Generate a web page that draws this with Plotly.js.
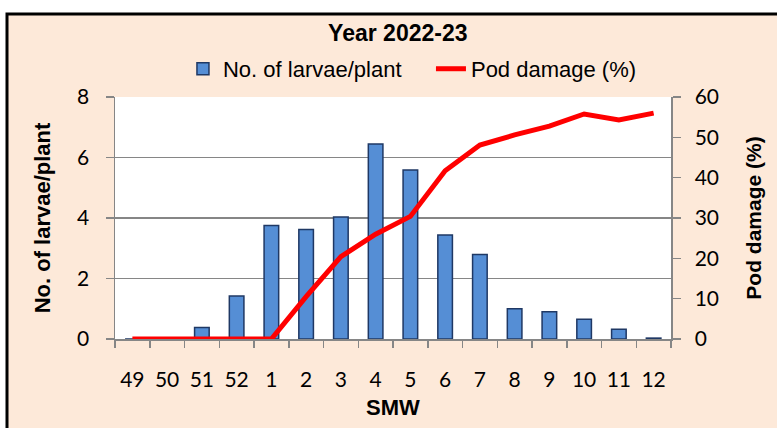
<!DOCTYPE html>
<html>
<head>
<meta charset="utf-8">
<script src="https://cdn.plot.ly/plotly-3.0.1.min.js"></script>
<style>html,body{margin:0;padding:0;background:#fff;}#chart{width:777px;height:428px;}</style>
</head>
<body>
<div id="chart"></div>
<script>
const smw = ['49','50','51','52','1','2','3','4','5','6','7','8','9','10','11','12'];
const larvae = [0, 0, 0.38, 1.42, 3.75, 3.62, 4.03, 6.45, 5.59, 3.44, 2.79, 1.0, 0.9, 0.65, 0.32, 0.03];
const podDamage = [0, 0, 0, 0, 0, 10.5, 20.4, 26.0, 30.4, 41.7, 48.1, 50.6, 52.8, 55.8, 54.3, 56.0];
const leftTicks = [0, 2, 4, 6, 8];
const rightTicks = [0, 10, 20, 30, 40, 50, 60];

const narrow = '"Liberation Sans Narrow", "Arial Narrow", "Liberation Sans", sans-serif';
const tickFont = 'Lato, "Open Sans", sans-serif';
const pad = '\u00a0\u00a0\u00a0\u00a0';

const traces = [
  {
    type: 'bar', x: smw, y: larvae, name: 'No. of larvae/plant' + pad,
    marker: {color: '#558ed5', line: {color: '#1f3864', width: 1.5}},
    yaxis: 'y'
  },
  {
    type: 'scatter', mode: 'lines', x: smw, y: podDamage, name: 'Pod damage (%)',
    line: {color: '#ff0000', width: 5},
    yaxis: 'y2'
  }
];

const layout = {
  width: 777, height: 428,
  margin: {l: 115, r: 106, t: 97, b: 89},
  paper_bgcolor: '#ffffff',
  plot_bgcolor: '#ffffff',
  bargap: 0.58,
  showlegend: true,
  title: {text: '<b>Year 2022-23</b>', font: {family: narrow, size: 23, color: '#000'},
          xref: 'container', x: 0.512, xanchor: 'center', yref: 'container', y: 0.923, yanchor: 'middle'},
  legend: {orientation: 'h', x: 0.535, xanchor: 'center', y: 1.116, yanchor: 'middle',
           font: {family: narrow, size: 22, color: '#000'}, bgcolor: 'rgba(0,0,0,0)', traceorder: 'normal'},
  xaxis: {
    type: 'category', showline: true, linecolor: '#868686', linewidth: 1.5,
    ticks: 'outside', tickson: 'boundaries', ticklen: 7, tickcolor: '#868686', tickwidth: 1.5,
    ticklabelstandoff: 21,
    tickfont: {family: tickFont, size: 21, color: '#000'},
    title: {text: '<b>SMW</b>', font: {family: narrow, size: 22, color: '#000'}, standoff: 10},
    showgrid: false, zeroline: false
  },
  yaxis: {
    range: [0, 8.001], tickvals: leftTicks, ticktext: leftTicks.map(String),
    showline: true, linecolor: '#868686', linewidth: 1.5,
    ticks: 'outside', ticklen: 8, tickcolor: '#868686', tickwidth: 1.5,
    showgrid: true, gridcolor: '#868686', gridwidth: 1.5, zeroline: false,
    tickfont: {family: tickFont, size: 21, color: '#000'},
    ticklabelstandoff: 12,
    title: {text: '<b>No. of larvae/plant</b>', font: {family: narrow, size: 22, color: '#000'}, standoff: 20}
  },
  yaxis2: {
    overlaying: 'y', side: 'right', range: [0, 60.0075], tickvals: rightTicks, ticktext: rightTicks.map(String),
    showline: true, linecolor: '#868686', linewidth: 1.5,
    ticks: 'outside', ticklen: 8, tickcolor: '#868686', tickwidth: 1.5,
    showgrid: false, zeroline: false,
    tickfont: {family: tickFont, size: 21, color: '#000'},
    ticklabelstandoff: 10,
    title: {text: '<b>Pod damage (%)</b>', font: {family: narrow, size: 21, color: '#000'}, standoff: 28}
  },
  shapes: [
    {type: 'rect', xref: 'paper', yref: 'paper', layer: 'below',
     x0: (7 - 115) / 556, x1: (790 - 115) / 556, y0: (339 - 440) / 242, y1: (339 - 14) / 242,
     fillcolor: '#fde9d9', line: {color: '#000000', width: 3}},
    {type: 'rect', xref: 'paper', yref: 'paper', layer: 'below',
     x0: 0, x1: 1, y0: 0, y1: 1, fillcolor: '#ffffff', line: {width: 0}}
  ]
};

Plotly.newPlot('chart', traces, layout, {displayModeBar: false, staticPlot: true});
</script>
</body>
</html>
